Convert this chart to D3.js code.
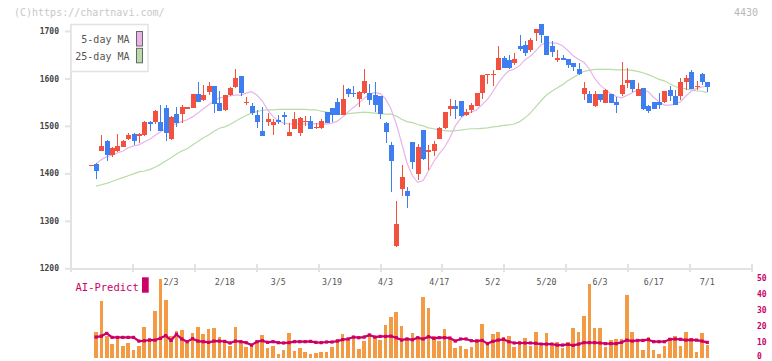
<!DOCTYPE html>
<html><head><meta charset="utf-8">
<script src="https://cdn.jsdelivr.net/npm/d3@7"></script>
<style>body{margin:0;background:#fff}svg{display:block}</style>
</head><body>
<script>
// ---------- DATA ----------
const dates = ["1/10",
 "1/14","1/15","1/16","1/17","1/20","1/21","1/22","1/23","1/24","1/27","1/28","1/29","1/30","1/31",
 "2/3","2/4","2/5","2/6","2/7","2/10","2/12","2/13","2/14","2/17","2/18","2/19","2/20","2/21","2/25","2/26","2/27","2/28",
 "3/3","3/4","3/5","3/6","3/7","3/10","3/11","3/12","3/13","3/14","3/17","3/18","3/19","3/21","3/24","3/25","3/26","3/27","3/28","3/31",
 "4/1","4/2","4/3","4/4","4/7","4/8","4/9","4/10","4/11","4/14","4/15","4/16","4/17","4/18","4/21","4/22","4/23","4/24","4/25","4/28","4/30",
 "5/1","5/2","5/7","5/8","5/9","5/12","5/13","5/14","5/15","5/16","5/19","5/20","5/21","5/22","5/23","5/26","5/27","5/28","5/29","5/30",
 "6/2","6/3","6/4","6/5","6/6","6/9","6/10","6/11","6/12","6/13","6/16","6/17","6/18","6/19","6/20","6/23","6/24","6/25","6/26","6/27","6/30",
 "7/1"];
const open = [1418,
 1420,1448,1469,1439,1448,1456,1472,1484,1479,1481,1508,1508,1508,1537,1472,1525,1525,1536,1538,1567,
 1555,1572,1584,1549,1534,1565,1581,1605,1550,1542,1523,1489,1509,1502,1513,1523,1479,1494,1486,1508,
 1510,1495,1496,1529,1537,1551,1523,1578,1570,1557,1569,1569,1565,1563,1507,1460,1246,1367,1362,1466,
 1399,1491,1444,1447,1473,1495,1535,1542,1553,1523,1534,1543,1570,1607,1607,1618,1644,1639,1632,1668,
 1671,1660,1696,1715,1690,1668,1639,1643,1641,1632,1620,1568,1567,1541,1567,1549,1567,1550,1568,1591,
 1597,1564,1580,1542,1550,1550,1551,1576,1563,1564,1593,1614,1581,1609,1593];
const high = [1418,
 1421,1481,1470,1455,1482,1470,1486,1486,1486,1511,1510,1534,1544,1544,1521,1539,1544,1540,1568,1593,
 1586,1593,1585,1574,1566,1581,1619,1606,1560,1548,1534,1539,1528,1514,1523,1530,1506,1530,1518,1521,
 1521,1507,1514,1529,1538,1558,1586,1579,1584,1573,1619,1588,1593,1564,1508,1466,1342,1418,1372,1467,
 1462,1492,1460,1469,1497,1530,1557,1555,1553,1535,1549,1570,1608,1609,1618,1668,1647,1649,1653,1692,
 1678,1685,1704,1715,1690,1678,1660,1649,1642,1633,1632,1593,1574,1574,1568,1577,1568,1560,1635,1621,
 1597,1590,1580,1544,1551,1569,1574,1585,1576,1602,1607,1618,1595,1612,1593];
const low = [1418,
 1388,1447,1427,1434,1446,1455,1470,1460,1465,1479,1489,1505,1489,1469,1470,1498,1506,1535,1537,1551,
 1553,1565,1528,1531,1532,1563,1580,1563,1544,1523,1495,1479,1500,1481,1504,1502,1479,1493,1479,1500,
 1493,1493,1494,1506,1509,1522,1522,1560,1560,1539,1568,1544,1530,1515,1463,1361,1245,1353,1328,1410,
 1385,1429,1407,1437,1472,1494,1521,1515,1518,1521,1528,1542,1557,1588,1585,1617,1622,1620,1628,1658,
 1648,1656,1678,1674,1649,1645,1635,1638,1621,1616,1607,1555,1548,1540,1550,1548,1548,1528,1563,1579,
 1572,1563,1534,1528,1535,1536,1548,1553,1544,1555,1576,1577,1576,1586,1572];
const close = [1418,
 1406,1458,1439,1454,1458,1468,1481,1469,1484,1509,1505,1532,1490,1486,1519,1506,1539,1539,1567,1551,
 1565,1584,1546,1532,1565,1580,1602,1570,1551,1528,1509,1479,1515,1508,1509,1519,1487,1515,1517,1511,
 1494,1498,1510,1507,1523,1523,1557,1568,1567,1572,1595,1555,1544,1525,1488,1427,1293,1392,1352,1424,
 1456,1430,1449,1462,1496,1529,1542,1535,1521,1529,1544,1569,1607,1609,1609,1644,1623,1621,1641,1662,
 1654,1681,1704,1692,1650,1656,1643,1639,1628,1625,1609,1580,1549,1567,1555,1576,1549,1545,1586,1597,
 1578,1578,1535,1531,1536,1545,1574,1562,1545,1593,1602,1578,1585,1593,1581];
const ma5 = [null,
 1420,1429,1435,1439,1443,1447,1454,1458,1460,1466,1472,1480,1487,1494,1500,1505,1509,1513,1519,1527,
 1536,1544,1553,1559,1561,1563,1565,1565,1569,1572,1565,1553,1534,1520,1511,1506,1504,1504,1504,1504,
 1504,1505,1505,1504,1506,1510,1519,1529,1539,1548,1558,1567,1570,1568,1557,1536,1504,1464,1422,1395,
 1381,1385,1405,1425,1441,1455,1475,1500,1516,1526,1529,1534,1545,1556,1572,1590,1605,1616,1620,1627,
 1639,1647,1658,1671,1675,1675,1674,1669,1659,1648,1640,1634,1620,1600,1586,1577,1568,1562,1559,1564,
 1570,1576,1576,1572,1560,1551,1544,1544,1546,1551,1563,1573,1579,1582,1584];
const ma25 = [null,
 1373,1376,1379,1383,1387,1391,1395,1399,1403,1405,1408,1413,1419,1426,1433,1441,1447,1452,1460,1467,
 1475,1481,1489,1495,1498,1503,1510,1516,1522,1527,1530,1533,1534,1534,1535,1535,1535,1535,1535,1535,
 1534,1534,1531,1529,1526,1525,1525,1526,1527,1528,1529,1528,1527,1526,1525,1525,1521,1514,1509,1507,
 1503,1500,1496,1494,1491,1490,1489,1490,1491,1493,1494,1494,1495,1496,1498,1499,1501,1502,1504,1509,
 1517,1527,1540,1553,1565,1573,1580,1587,1595,1602,1609,1615,1617,1619,1619,1619,1619,1618,1618,1618,
 1617,1615,1612,1608,1603,1598,1595,1589,1583,1580,1578,1576,1574,1573,1570];
const volume = [null,
 16,35.4,13.8,8.5,11.7,7.5,9.2,4.8,7.5,19.2,12.5,29.2,49.2,36.3,13.8,16.9,17.5,9.4,15.4,19.2,
 15,18.1,18.8,12.9,9.4,7.5,19.2,9.4,6.9,8.8,9.6,14.2,6.3,7.1,2.5,4.8,15.4,4.4,6.3,3.5,
 2.5,2.9,3.5,3.5,6.9,11.7,15,11.7,12.5,5.4,10.4,13.8,12.9,11.3,20.4,25.6,28.5,19.8,11.7,15.2,
 11.7,38.1,30.8,13.5,10.4,17.9,11.7,6.3,7.5,5.4,6.9,11.7,21,8.5,14.8,16.3,13.1,13.8,6.9,10.4,
 12.5,7.5,16.3,7.5,15.4,7.5,9.6,6.3,10,18.3,16.3,26.3,46,18.3,18.8,6.9,11,11.7,11.7,39.2,
 16.3,11.7,5,13.1,5,2.5,7.5,12.5,13.8,7.5,16.3,12.5,3.3,15.4,7.9];
const aiPredict = [null,
 12.9,13.5,15.2,12.7,12.7,12.7,12.7,12.7,10.4,10.6,11,11,12.1,13.8,10.8,14.6,11.7,10,11.9,10.4,
 10,9.6,10.4,10.4,10.2,9.2,10.4,10,9.4,7.9,10,10.6,9.6,10,9.4,9.2,9.4,10,10,10,
 10.2,9.6,9.4,9.8,9.8,10.4,11.3,11.7,12.9,12.5,12.9,14.2,12.9,13.3,13.3,13.5,12.5,11,11.7,11.2,
 12.5,11.7,13.1,12.1,12.5,12.5,12.3,10.4,11.7,11.7,10.6,10.4,10.8,8.8,10.2,11,11.5,10,9.2,9.2,
 9.2,9.2,9,8.5,8.5,8.5,7.9,7.9,8.3,7.7,8.5,9.4,9.4,9.4,9.2,8.8,8.8,8.8,9.6,11,
 10.4,10.8,10.8,11.3,10,10,10,11.5,11.7,11.5,11,11.2,11,10.4,9.6];
const dateLabels = ["2/3","2/18","3/5","3/19","4/3","4/17","5/2","5/20","6/3","6/17","7/1"];
const priceTicks = [1200,1300,1400,1500,1600,1700];
const volumeTicks = [0,10,20,30,40,50];
const legendLabels = ["5-day MA","25-day MA"];

// ---------- STYLE ----------
const W = 772, H = 361;
const RED = "#f2513f", BLUE = "#3f7ef1", PINK = "#e8b4e8", GREEN = "#b8dca8";
const ORANGE = "#f39a45", MAGENTA = "#cc0066", AXIS = "#e2e2e2";
const MONO = "'DejaVu Sans Mono', 'Liberation Mono', monospace";

const svg = d3.select("body").append("svg").attr("width", W).attr("height", H)
  .style("font-family", MONO);

const x = d3.scalePoint().domain(dates).range([90.64, 707.3]);
const y = d3.scaleLinear().domain([1200, 1700]).range([268.3, 31]);
const vy = d3.scaleLinear().domain([0, 50]).range([357.7, 277.7]);

const rows = dates.map((d, i) => ({d, o: open[i], h: high[i], l: low[i], c: close[i],
  m5: ma5[i], m25: ma25[i], v: volume[i], ai: aiPredict[i]}));

// header texts
svg.append("text").attr("x", 14).attr("y", 15.5).attr("font-size", 10).attr("fill", "#c8c8c8")
  .text("(C)https://chartnavi.com/");
svg.append("text").attr("x", 734).attr("y", 15.5).attr("font-size", 10).attr("fill", "#b8b8b8")
  .text("4430");

// axes frame
const axisG = svg.append("g").attr("stroke", AXIS).attr("stroke-width", 2).attr("shape-rendering", "crispEdges");
axisG.append("line").attr("x1", 71).attr("x2", 71).attr("y1", 24).attr("y2", 269);
axisG.append("line").attr("x1", 70).attr("x2", 753).attr("y1", 268.5).attr("y2", 268.5);
axisG.selectAll(".bt").data(d3.range(12)).join("line")
  .attr("x1", k => 71 + k * 61.9).attr("x2", k => 71 + k * 61.9)
  .attr("y1", 264).attr("y2", 272);

// y axis (price)
const yAxis = svg.append("g").attr("transform", "translate(71,0)")
  .call(d3.axisLeft(y).tickValues(priceTicks).tickSize(6).tickPadding(6).tickFormat(d3.format("d")));
yAxis.select(".domain").remove();
yAxis.selectAll(".tick line").attr("stroke", AXIS).attr("stroke-width", 2);
yAxis.selectAll(".tick text").attr("fill", "#444").attr("font-size", 8).attr("font-weight", "bold")
  .attr("font-family", MONO);

// MA lines
const lineFor = key => d3.line().defined(r => r[key] != null).x(r => x(r.d)).y(r => y(r[key]));
svg.append("path").datum(rows).attr("d", lineFor("m25")).attr("fill", "none").attr("stroke", GREEN).attr("stroke-width", 1.2);
svg.append("path").datum(rows).attr("d", lineFor("m5")).attr("fill", "none").attr("stroke", PINK).attr("stroke-width", 1.2);

// candles
const cg = svg.append("g").attr("shape-rendering", "crispEdges");
const col = r => r.c >= r.o ? RED : BLUE;
cg.selectAll(".wick").data(rows).join("rect")
  .attr("x", r => Math.round(x(r.d)) - 0.5).attr("width", 1)
  .attr("y", r => y(r.h)).attr("height", r => Math.max(0, y(r.l) - y(r.h)))
  .attr("fill", col);
cg.selectAll(".body").data(rows).join("rect")
  .attr("x", r => Math.round(x(r.d)) - 2.5).attr("width", 5)
  .attr("y", r => y(Math.max(r.o, r.c)))
  .attr("height", r => Math.max(1.2, Math.abs(y(r.o) - y(r.c))))
  .attr("fill", col);

// legend
const lg = svg.append("g");
lg.append("rect").attr("x", 71).attr("y", 24.5).attr("width", 77).attr("height", 47)
  .attr("fill", "#fff").attr("stroke", AXIS).attr("stroke-width", 1.5);
lg.selectAll(".lt").data(legendLabels).join("text")
  .attr("x", 129.5).attr("y", (d, i) => 42.8 + i * 16.7).attr("text-anchor", "end")
  .attr("font-size", 10).attr("fill", "#555").text(d => d);
lg.selectAll(".ls").data([PINK, GREEN]).join("rect")
  .attr("x", 136.5).attr("y", (d, i) => 31.5 + i * 16.8).attr("width", 6).attr("height", 14.5)
  .attr("fill", d => d).attr("stroke", "#666").attr("stroke-width", 1);

// volume bars
const vr = rows.filter(r => r.v != null);
svg.append("g").attr("shape-rendering", "crispEdges").selectAll("rect").data(vr).join("rect")
  .attr("x", r => x(r.d) - 1.8).attr("width", 3.6)
  .attr("y", r => vy(r.v)).attr("height", r => vy(0) - vy(r.v))
  .attr("fill", ORANGE);

// AI predict line
const ar = rows.filter(r => r.ai != null);
svg.append("path").datum(ar)
  .attr("d", d3.line().x(r => x(r.d)).y(r => vy(r.ai)))
  .attr("fill", "none").attr("stroke", MAGENTA).attr("stroke-width", 2.2);
svg.append("g").selectAll("rect").data(ar).join("rect")
  .attr("x", r => x(r.d) - 1.6).attr("y", r => vy(r.ai) - 1.6)
  .attr("width", 3.2).attr("height", 3.2).attr("fill", MAGENTA);

// date labels
svg.append("g").selectAll("text").data(dateLabels).join("text")
  .attr("x", d => x(d)).attr("y", 285).attr("text-anchor", "middle")
  .attr("font-size", 8.3).attr("fill", "#555").text(d => d);

// AI-Predict legend
svg.append("text").attr("x", 75.5).attr("y", 290.5).attr("font-size", 10.5).attr("fill", MAGENTA)
  .text("AI-Predict");
svg.append("rect").attr("x", 142).attr("y", 277.3).attr("width", 6.7).attr("height", 15.4).attr("fill", MAGENTA);

// right volume axis
const vAxis = svg.append("g").attr("transform", "translate(752,0)")
  .call(d3.axisRight(vy).tickValues(volumeTicks).tickSize(0).tickPadding(5).tickFormat(d3.format("d")));
vAxis.select(".domain").remove();
vAxis.selectAll(".tick text").attr("fill", MAGENTA).attr("font-size", 8).attr("font-weight", "bold")
  .attr("font-family", MONO).attr("dy", d => d === 0 ? "0.05em" : "0.32em");
</script>
</body></html>
